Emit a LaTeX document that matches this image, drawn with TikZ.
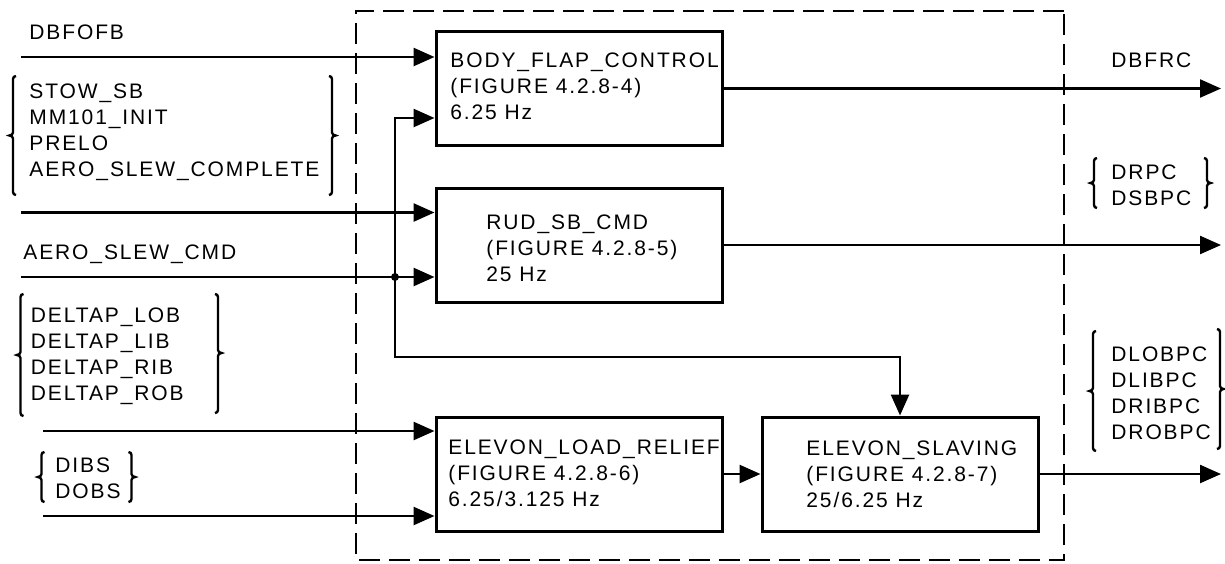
\documentclass[tikz,border=0pt]{standalone}
\usepackage{fontspec}
\setmainfont{Liberation Sans}[LetterSpace=9]
\usetikzlibrary{arrows.meta}
\newcommand\mybrl[4]{\draw[brk] (#1+3,#2) to[out=180,in=90] (#1,#2+3) -- (#1,#3-3) to[out=-90,in=0] (#1-3.5,#3) to[out=0,in=90] (#1,#3+3) -- (#1,#4-3) to[out=-90,in=180] (#1+3,#4);}
\newcommand\mybrr[4]{\draw[brk] (#1-3,#2) to[out=0,in=90] (#1,#2+3) -- (#1,#3-3) to[out=-90,in=180] (#1+3.5,#3) to[out=180,in=90] (#1,#3+3) -- (#1,#4-3) to[out=-90,in=0] (#1-3,#4);}
\begin{document}
\begin{tikzpicture}[x=0.5pt,y=-0.5pt,
  box/.style={draw, line width=1.5pt, minimum width=143pt, minimum height=57pt, inner sep=0pt},
  lbl/.style={anchor=north west, inner sep=0pt, align=left, font=\fontsize{10.5}{13}\selectfont},
  inarr/.style={line width=1.3pt, -{Triangle[length=10.5pt,width=9pt]}},
  outarr/.style={line width=1.15pt, -{Triangle[length=10.5pt,width=9pt]}},
  brk/.style={line width=1.2pt},
  frame/.style={line width=1.4pt, dash pattern=on 10.5pt off 4.5pt}
]
\useasboundingbox (0,0) rectangle (1225,563);

% dashed frame
\draw[frame] (1064,11) -- (356,11) -- (356,560) -- (1064,560) -- cycle;

% boxes
\node[box] (bfc) at (579,88.5) {};
\node[box] (rud) at (579,245) {};
\node[box] (elr) at (579,474) {};
\node[box, minimum width=138pt] (es) at (900,474) {};

% box texts
\node[lbl] (tbfc) at (450,52.5) {BODY\_FLAP\_CONTROL\\(FIGURE 4.2.8-4)\\6.25 Hz};
\node[lbl] (trud) at (486,214) {RUD\_SB\_CMD\\(FIGURE 4.2.8-5)\\25 Hz};
\node[lbl] (telr) at (448,439.5) {ELEVON\_LOAD\_RELIEF\\(FIGURE 4.2.8-6)\\6.25/3.125 Hz};
\node[lbl] (tes) at (806,440.5) {ELEVON\_SLAVING\\(FIGURE 4.2.8-7)\\25/6.25 Hz};

% input labels
\node[lbl] (tdbfofb) at (29,24) {DBFOFB};
\node[lbl] (tstow) at (29,83) {STOW\_SB\\MM101\_INIT\\PRELO\\AERO\_SLEW\_COMPLETE};
\node[lbl] (taero) at (23,244.5) {AERO\_SLEW\_CMD};
\node[lbl] (tdelta) at (30.5,307.5) {DELTAP\_LOB\\DELTAP\_LIB\\DELTAP\_RIB\\DELTAP\_ROB};
\node[lbl] (tdibs) at (55,457.5) {DIBS\\DOBS};

% output labels
\node[lbl] (tdbfrc) at (1111,52.5) {DBFRC};
\node[lbl] (tdrpc) at (1111,164) {DRPC\\DSBPC};
\node[lbl] (tdlob) at (1111,346) {DLOBPC\\DLIBPC\\DRIBPC\\DROBPC};

% braces
\mybrl{13}{76}{135.5}{195}
\mybrr{332}{76}{135.5}{195}
\mybrl{20.5}{294}{355}{416}
\mybrr{218}{294}{353}{413}
\mybrl{41.5}{452}{477}{502}
\mybrr{131.5}{452}{477}{502}
\mybrl{1094}{158}{183}{208}
\mybrr{1207}{158}{183}{208}
\mybrl{1093}{331}{391}{451}
\mybrr{1220}{329}{389}{449}

% input coordinates
\coordinate (in1) at (21,57);
\coordinate (in2) at (21,212.5);
\coordinate (in3) at (21,277);
\coordinate (in4) at (43,431);
\coordinate (in5) at (43,516);
\coordinate (j) at (395,277);
\coordinate (fb1) at (395,118);
\coordinate (fb2) at (395,357);
\coordinate (o1) at (1221,0);

% inputs
\draw[inarr] (in1) -- (in1 -| bfc.west);
\draw[inarr] (in2) -- (in2 -| rud.west);
\draw[inarr] (in3) -- (in3 -| rud.west);
\draw[inarr] (in4) -- (in4 -| elr.west);
\draw[inarr] (in5) -- (in5 -| elr.west);
\fill (j) circle (2pt);
\draw[inarr] (j) -- (fb1) -- (fb1 -| bfc.west);
\draw[inarr] (j) -- (fb2) -| (es.north);
\draw[inarr] (elr.east) -- (es.west);

% outputs
\draw[outarr] (bfc.east) -- (bfc.east -| o1);
\draw[outarr] (rud.east) -- (rud.east -| o1);
\draw[outarr] (es.east) -- (es.east -| o1);
\end{tikzpicture}
\end{document}
